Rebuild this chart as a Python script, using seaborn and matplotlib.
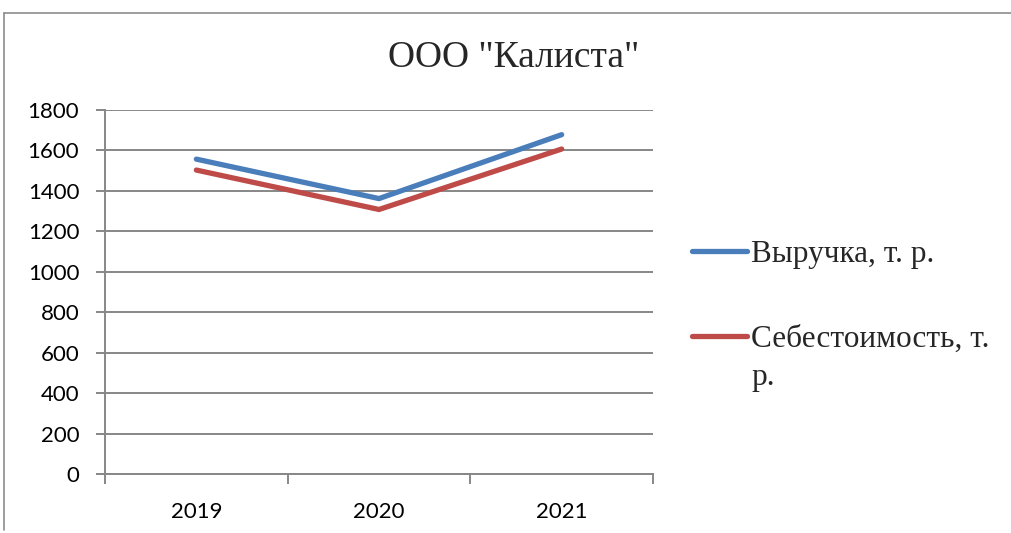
import matplotlib
matplotlib.use("Agg")
import matplotlib.pyplot as plt
import seaborn as sns
import pandas as pd
from matplotlib.lines import Line2D
from matplotlib.ticker import FixedLocator, MultipleLocator

years = ["2019", "2020", "2021"]
revenue = [1557, 1362, 1678]
cost = [1503, 1308, 1607]
series_names = ["Выручка, т. р.", "Себестоимость, т. р."]
title = 'ООО "Калиста"'

df = pd.DataFrame({
    "year": years * 2,
    "value": revenue + cost,
    "series": [series_names[0]] * 3 + [series_names[1]] * 3,
})

sns.set_style("white")
plt.rcParams["font.family"] = ["Lato", "DejaVu Sans"]

fig = plt.figure(figsize=(10.11, 5.33), dpi=100)
ax = fig.add_axes([105 / 1011, 1 - 474 / 533, (653 - 105) / 1011, (474 - 110) / 533])

palette = {series_names[0]: "#4A7EBB", series_names[1]: "#BE4B48"}
sns.lineplot(data=df, x="year", y="value", hue="series", palette=palette,
             linewidth=3.8, ax=ax, legend=False, sort=False,
             solid_capstyle="round", solid_joinstyle="miter")

grid_c = "#878787"
ax.set_xlim(-0.5, 2.5)
ax.set_ylim(0, 1800)
ax.yaxis.set_major_locator(MultipleLocator(200))
ax.grid(axis="y", color=grid_c, linewidth=1.4)
ax.grid(axis="x", visible=False)
ax.set_axisbelow(True)
for s in ["top", "right"]:
    ax.spines[s].set_visible(False)
for s in ["left", "bottom"]:
    ax.spines[s].set_color(grid_c)
    ax.spines[s].set_linewidth(1.4)
ax.set_xlabel("")
ax.set_ylabel("")

ax.xaxis.set_minor_locator(FixedLocator([-0.5, 0.5, 1.5, 2.5]))
ax.tick_params(axis="x", which="major", length=0, pad=20, labelsize=16, labelcolor="#000000")
ax.tick_params(axis="x", which="minor", length=7, width=1.4, color=grid_c, direction="out", bottom=True)
ax.tick_params(axis="y", which="major", length=6.5, width=1.4, color=grid_c, direction="out",
               pad=12, labelsize=16, labelcolor="#000000", left=True)

serif = ["Liberation Serif", "DejaVu Serif"]
fig.text(514 / 1011, 1 - 58 / 533, title, ha="center", va="center",
         fontsize=27, family=serif)

handles = [Line2D([], [], color=palette[n], linewidth=3.8, solid_capstyle="round") for n in series_names]
labels = [series_names[0], "Себестоимость, т."]
leg = fig.legend(handles, labels, loc="upper left",
                 bbox_to_anchor=(692 / 1011, 1 - 240 / 533),
                 frameon=False, borderpad=0, borderaxespad=0,
                 handlelength=1.75, handletextpad=0.15, labelspacing=1.8,
                 prop={"family": serif, "size": 22.5})
fig.text(751 / 1011, 1 - 378 / 533, "р.", ha="left", va="center",
         fontsize=22.5, family=serif)

border_c = "#8c8c8c"
fig.add_artist(Line2D([4 / 1011, 1.0], [1 - 13 / 533, 1 - 13 / 533], color=border_c, linewidth=1.2,
                      transform=fig.transFigure))
fig.add_artist(Line2D([4 / 1011, 4 / 1011], [1 - 13 / 533, 1 - 530 / 533], color=border_c, linewidth=1.2,
                      transform=fig.transFigure))

fig.savefig("out.png", dpi=100, facecolor="white")
